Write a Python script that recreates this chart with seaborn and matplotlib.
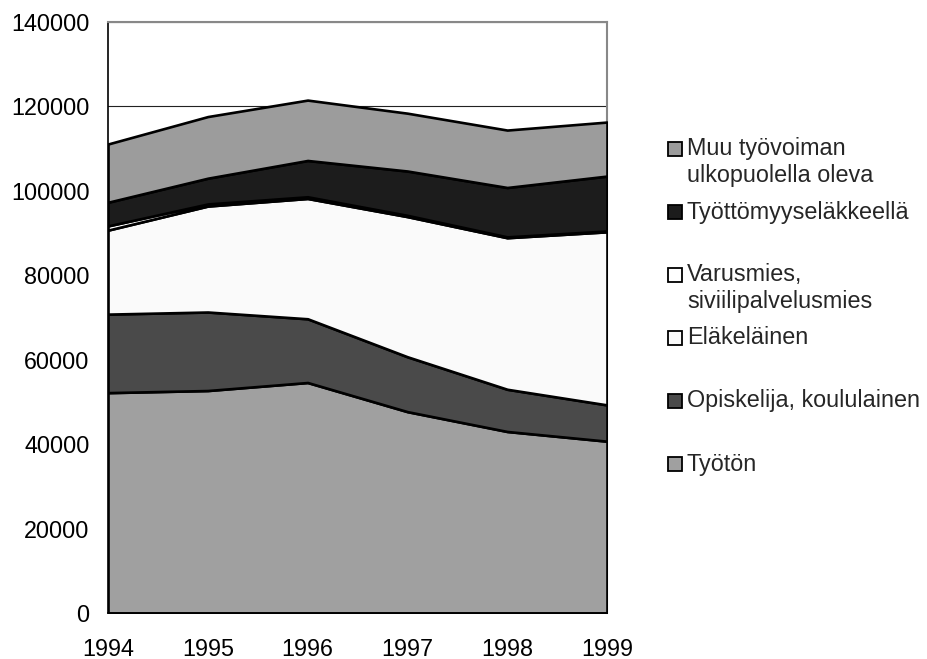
"""
Stacked area chart: population outside the labour force by status, 1994-1999.
"""

import matplotlib
matplotlib.use("Agg")
import matplotlib.pyplot as plt
import seaborn as sns
import pandas as pd
from matplotlib.patches import Rectangle

# Data
years = [1994, 1995, 1996, 1997, 1998, 1999]
tyoton = [52200, 52700, 54600, 47700, 43000, 40700]
opiskelija = [18600, 18600, 15100, 13000, 10000, 8600]
elakelainen = [19900, 25100, 28500, 33200, 35900, 41000]
varusmies = [1000, 500, 400, 300, 200, 200]
tyottomyyselake = [5600, 6100, 8600, 10500, 11700, 13000]
muu = [13800, 14600, 14300, 13700, 13600, 12800]

labels = [
    "Työtön",
    "Opiskelija, koululainen",
    "Eläkeläinen",
    "Varusmies,\nsiviilipalvelusmies",
    "Työttömyyseläkkeellä",
    "Muu työvoiman\nulkopuolella oleva",
]
colors = ["#a0a0a0", "#4a4a4a", "#fafafa", "#ffffff", "#1c1c1c", "#9c9c9c"]

df = pd.DataFrame(
    {
        labels[0]: tyoton,
        labels[1]: opiskelija,
        labels[2]: elakelainen,
        labels[3]: varusmies,
        labels[4]: tyottomyyselake,
        labels[5]: muu,
    },
    index=years,
)

sns.set_style("white")
plt.rcParams["font.family"] = ["Liberation Sans", "DejaVu Sans"]
FS = 16.8

W, H = 928, 659
fig = plt.figure(figsize=(W / 100, H / 100), dpi=100)
ax = fig.add_axes([108 / W, 1 - 613 / H, 499 / W, 591 / H])

# Gridlines behind the areas
ax.set_axisbelow(True)
ax.yaxis.grid(True, color="#222222", linewidth=0.8)
ax.xaxis.grid(False)

ax.stackplot(
    df.index,
    [df[c].values for c in df.columns],
    colors=colors,
    edgecolor="black",
    linewidth=1.9,
    zorder=2,
)

ax.set_xlim(1994, 1999)
ax.set_ylim(0, 140000)
ax.set_xticks(years)
ax.set_yticks(range(0, 140001, 20000))
ax.tick_params(axis="both", labelsize=FS, direction="out", length=5.8,
               width=1, color="#555555", labelcolor="black")
ax.tick_params(axis="y", pad=7.5)
ax.tick_params(axis="x", pad=12)

for side in ["left", "bottom"]:
    ax.spines[side].set_color("black")
    ax.spines[side].set_linewidth(1.2)
for side in ["top", "right"]:
    ax.spines[side].set_color("#888888")
    ax.spines[side].set_linewidth(1.5)
ax.spines["right"].set_zorder(1)

# Legend drawn entry by entry (Excel style: equal slots, marker on first line)
y_first = 149
slot = 63
line_pitch = 27
for i, (lab, col) in enumerate(zip(labels[::-1], colors[::-1])):
    yc = y_first + i * slot
    fig.patches.append(Rectangle((668 / W, 1 - (yc + 7) / H), 14 / W, 14 / H,
                                 transform=fig.transFigure, facecolor=col,
                                 edgecolor="black", linewidth=1.3))
    for j, line in enumerate(lab.split("\n")):
        fig.text(687 / W, 1 - (yc + j * line_pitch) / H, line,
                 fontsize=FS, va="center", ha="left")

fig.savefig("out.png", dpi=100)
